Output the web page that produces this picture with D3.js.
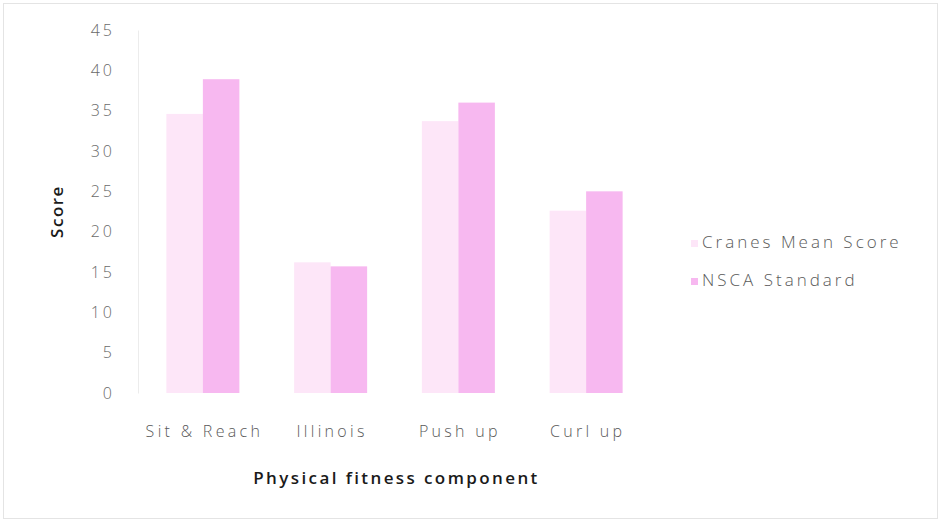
<!DOCTYPE html>
<html>
<head>
<meta charset="utf-8">
<script src="https://cdn.jsdelivr.net/npm/d3@7"></script>
<style>
  body { margin: 0; background: #fff; }
  svg text { font-family: "Open Sans", "DejaVu Sans", sans-serif; }
</style>
</head>
<body>
<div id="graphicContainer"></div>
<script>

const categories = ["Sit & Reach", "Illinois", "Push up", "Curl up"]
const seriesNames = ["Cranes Mean Score", "NSCA Standard"]
const cranesMean = [34.6, 16.2, 33.7, 22.6]
const nscaStandard = [38.9, 15.7, 36.0, 25.0]
const yTicks = [0, 5, 10, 15, 20, 25, 30, 35, 40, 45]

const colors = ["#fde6f8", "#f7b8f0"]

const width = 941
const height = 520
const margin = { left: 139, right: 291, top: 30, bottom: 127 }

const data = categories.map((c, i) => ({
  category: c,
  values: [cranesMean[i], nscaStandard[i]]
}))

const svg = d3.select("#graphicContainer")
  .append("svg")
  .attr("width", width)
  .attr("height", height)

// faint frame round the chart
svg.append("rect")
  .attr("x", 3.5)
  .attr("y", 3.5)
  .attr("width", width - 7)
  .attr("height", height - 5)
  .attr("fill", "none")
  .attr("stroke", "#e4e4e4")

const x0 = d3.scaleBand()
  .domain(categories)
  .range([margin.left, width - margin.right])
  .paddingInner(0)
  .paddingOuter(0)

const x1 = d3.scaleBand()
  .domain(seriesNames)
  .range([0, x0.bandwidth()])
  .paddingInner(0)
  .paddingOuter(0.75)

const y = d3.scaleLinear()
  .domain([0, 45])
  .range([height - margin.bottom, margin.top])

// y axis
const yAxis = svg.append("g")
  .attr("transform", `translate(${margin.left - 1},0)`)
  .call(d3.axisLeft(y).tickValues(yTicks).tickSize(0).tickPadding(23))

yAxis.select(".domain").attr("stroke", "#ececec")
yAxis.selectAll("text")
  .attr("fill", "#6a6a6a")
  .style("font-size", "16px")
  .style("font-weight", 300)
  .style("letter-spacing", "3px")

// bars
const groups = svg.selectAll(".group")
  .data(data)
  .enter()
  .append("g")
  .attr("class", "group")
  .attr("transform", d => `translate(${x0(d.category)},0)`)

groups.selectAll("rect")
  .data(d => d.values.map((v, i) => ({ key: seriesNames[i], value: v, i })))
  .enter()
  .append("rect")
  .attr("x", d => x1(d.key))
  .attr("y", d => y(d.value))
  .attr("width", x1.bandwidth())
  .attr("height", d => y(0) - y(d.value))
  .attr("fill", d => colors[d.i])

// x axis labels
const xAxis = svg.append("g")
  .attr("transform", `translate(0,${height - margin.bottom})`)
  .call(d3.axisBottom(x0).tickSize(0).tickPadding(33))

xAxis.select(".domain").remove()
xAxis.selectAll("text")
  .attr("fill", "#5a5a5a")
  .attr("dx", "1.5px")
  .style("font-size", "16px")
  .style("font-weight", 300)
  .style("letter-spacing", "3.3px")

// axis titles
svg.append("text")
  .attr("x", (margin.left + width - margin.right) / 2 + 2)
  .attr("y", 484)
  .attr("text-anchor", "middle")
  .attr("fill", "#1a1a1a")
  .style("font-size", "17px")
  .style("font-weight", 600)
  .style("letter-spacing", "2.4px")
  .text("Physical fitness component")

svg.append("text")
  .attr("transform", `translate(63,${(margin.top + height - margin.bottom) / 2}) rotate(-90)`)
  .attr("text-anchor", "middle")
  .attr("fill", "#1a1a1a")
  .style("font-size", "17px")
  .style("font-weight", 600)
  .style("letter-spacing", "1.5px")
  .text("Score")

// legend
const legend = svg.append("g")
  .attr("transform", "translate(691,240)")

seriesNames.forEach((name, i) => {
  const row = legend.append("g")
    .attr("transform", `translate(0,${i * 38})`)

  row.append("rect")
    .attr("width", 7)
    .attr("height", 7)
    .attr("fill", colors[i])

  row.append("text")
    .attr("x", 11)
    .attr("y", 8)
    .attr("fill", "#5a5a5a")
    .style("font-size", "17px")
    .style("font-weight", 300)
    .style("letter-spacing", "3px")
    .text(name)
})

</script>
</body>
</html>
